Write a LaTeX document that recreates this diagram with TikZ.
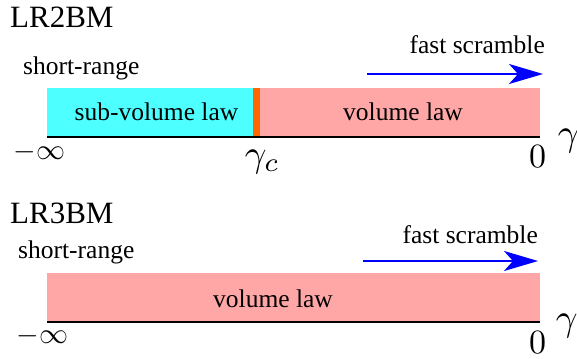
\documentclass[tikz,border=0pt]{standalone}
\usepackage{fontspec}
\setmainfont{Liberation Serif}
\usetikzlibrary{arrows.meta}
\definecolor{subvol}{RGB}{77,255,255}
\definecolor{vol}{RGB}{255,166,166}
\definecolor{crit}{RGB}{255,102,0}
\definecolor{flow}{RGB}{0,0,255}
\tikzset{
  title/.style={inner sep=0pt, anchor=base west, font=\fontsize{31}{34}\selectfont},
  lbl/.style={inner sep=0pt, font=\fontsize{25.5}{28}\selectfont},
  mathlbl/.style={inner sep=0pt, scale=2.9},
  zerolbl/.style={inner sep=0pt, anchor=base, scale=3.4},
  gam/.style={inner sep=0pt, anchor=base west, scale=3.8},
  axis/.style={line width=2.7pt, black},
  flowarrow/.style={flow, line width=2.5pt, -{Stealth[length=34pt, width=20pt, inset=9pt]}},
}
\begin{document}
\begin{tikzpicture}[x=1pt, y=-1pt]
\useasboundingbox (0,0) rectangle (577,358);

% ---------- LR2BM ----------
\node[title] (t2) at (10,28) {LR2BM};
\node[lbl, anchor=base west] (sr2) at (23,75) {short-range};
\fill[subvol] (47,88) rectangle (253,137);
\fill[vol] (259,88) rectangle (540,137);
\fill[crit] (253,88) rectangle (260,137);
\coordinate (a2l) at (47,137);
\coordinate (a2r) at (540,137);
\draw[axis] (a2l) -- (a2r);
\node[lbl, anchor=base] (sv) at (156.5,121) {sub-volume law};
\node[lbl, anchor=base] (v2) at (403,121) {volume law};
\node[lbl, anchor=base east] (fs2) at (545,54) {fast scramble};
\coordinate (f2s) at (367,74);
\coordinate (f2e) at (543,74);
\draw[flowarrow] (f2s) -- (f2e);
\node[mathlbl, anchor=base west] (mi2) at (13,160) {$-\infty$};
\node[gam] (gc) at (244,166) {$\gamma_c$};
\node[zerolbl] (z2) at (537.5,167) {$0$};
\node[gam] (g2) at (557,146) {$\gamma$};

% ---------- LR3BM ----------
\node[title] (t3) at (10,223) {LR3BM};
\node[lbl, anchor=base west] (sr3) at (18,258) {short-range};
\fill[vol] (47,273) rectangle (540,322);
\coordinate (a3l) at (47,322);
\coordinate (a3r) at (540,322);
\draw[axis] (a3l) -- (a3r);
\node[lbl, anchor=base] (v3) at (273,307) {volume law};
\node[lbl, anchor=base east] (fs3) at (538,243) {fast scramble};
\coordinate (f3s) at (363,261);
\coordinate (f3e) at (538,261);
\draw[flowarrow] (f3s) -- (f3e);
\node[mathlbl, anchor=base west] (mi3) at (16,343) {$-\infty$};
\node[zerolbl] (z3) at (537.5,353.5) {$0$};
\node[gam] (g3) at (555,330) {$\gamma$};
\end{tikzpicture}
\end{document}
